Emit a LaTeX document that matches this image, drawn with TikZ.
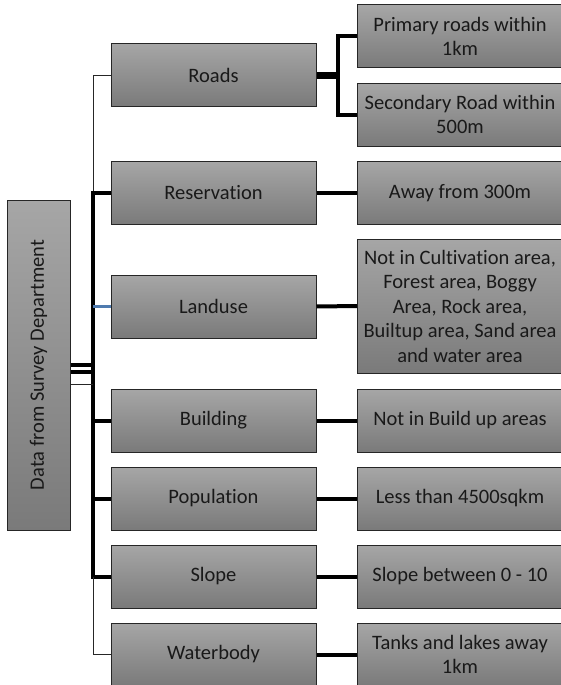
\documentclass[tikz,border=0pt]{standalone}
\usepackage{fontspec}
\setmainfont{Carlito}[Ligatures=NoCommon]
\definecolor{boxtop}{HTML}{A6A6A6}
\definecolor{boxbot}{HTML}{7A7A7A}
\definecolor{linkblue}{HTML}{4F7BAF}

\begin{document}
\begin{tikzpicture}
		[x=1pt, y=-1pt,
		every node/.style={draw=black!85, line width=1pt, text=black!90, align=center, inner sep=1pt,
			font=\fontsize{20.5}{24.5}\selectfont, top color=boxtop, bottom color=boxbot},
		box/.style={minimum width=205pt, minimum height=63pt},
		tallbox/.style={minimum width=205pt, minimum height=134pt},
		thinlink/.style={line width=1pt, black!85},
		thicklink/.style={line width=4pt, black},
		bluelink/.style={line width=3pt, linkblue}]
		\useasboundingbox (0,0) rectangle (560,685);
		\node (root) [rotate=90, minimum width=330pt, minimum height=63pt] at (38.5,365) {Data from Survey Department};
		\node (roads) [box] at (213.5,75) {Roads};
		\node (reservation) [box] at (213.5,193) {Reservation};
		\node (landuse) [box] at (213.5,306.5) {Landuse};
		\node (building) [box] at (213.5,420.5) {Building};
		\node (population) [box] at (213.5,498.5) {Population};
		\node (slope) [box] at (213.5,576.5) {Slope};
		\node (waterbody) [box] at (213.5,654.5) {Waterbody};
		\node (primary) [box] at (460,36.5) {Primary roads within\\1km};
		\node (secondary) [box] at (460,114.5) {Secondary Road within\\500m};
		\node (away) [box] at (460,193) {Away from 300m};
		\node (cultivation) [tallbox] at (460,306) {Not in Cultivation area,\\Forest area, Boggy\\Area, Rock area,\\Builtup area, Sand area\\and water area};
		\node (buildup) [box] at (460,420.5) {Not in Build up areas};
		\node (density) [box] at (460,498.5) {Less than 4500sqkm};
		\node (gradient) [box] at (460,576.5) {Slope between 0 - 10};
		\node (tanks) [box] at (460,654.5) {Tanks and lakes away\\1km};
		\coordinate (trunk) at (93,0);
		\coordinate (fork) at (338,0);
		% trunk on the left
		\draw [thinlink] (roads.west) -- (roads.west -| trunk) -- (reservation.west -| trunk);
		\draw [thicklink] (reservation.west) -- (reservation.west -| trunk) -- (slope.west -| trunk) -- (slope.west);
		\draw [thinlink] (slope.west -| trunk) -- (waterbody.west -| trunk) -- (waterbody.west);
		\foreach \n in {building,population}
			\draw [thicklink] (\n.west -| trunk) -- (\n.west);
		\draw [bluelink] (landuse.west -| trunk) -- (landuse.west);
		\draw [thicklink] (root.south) -- (root.south -| trunk);
		\draw [thicklink] ([yshift=-7pt]root.south) -- ([yshift=-7pt]root.south -| trunk);
		\draw [thinlink] ([yshift=-19pt]root.south) -- ([yshift=-19pt]root.south -| trunk);
		% criteria on the right
		\draw [line width=7pt] (roads.east) -- (roads.east -| fork);
		\draw [thicklink] (primary.west) -- (primary.west -| fork) -- (secondary.west -| fork) -- (secondary.west);
		\foreach \a/\b in {reservation/away,landuse/cultivation,building/buildup,population/density,slope/gradient,waterbody/tanks}
			\draw [thicklink] (\a.east) -- (\b.west);
	\end{tikzpicture}
\end{document}
